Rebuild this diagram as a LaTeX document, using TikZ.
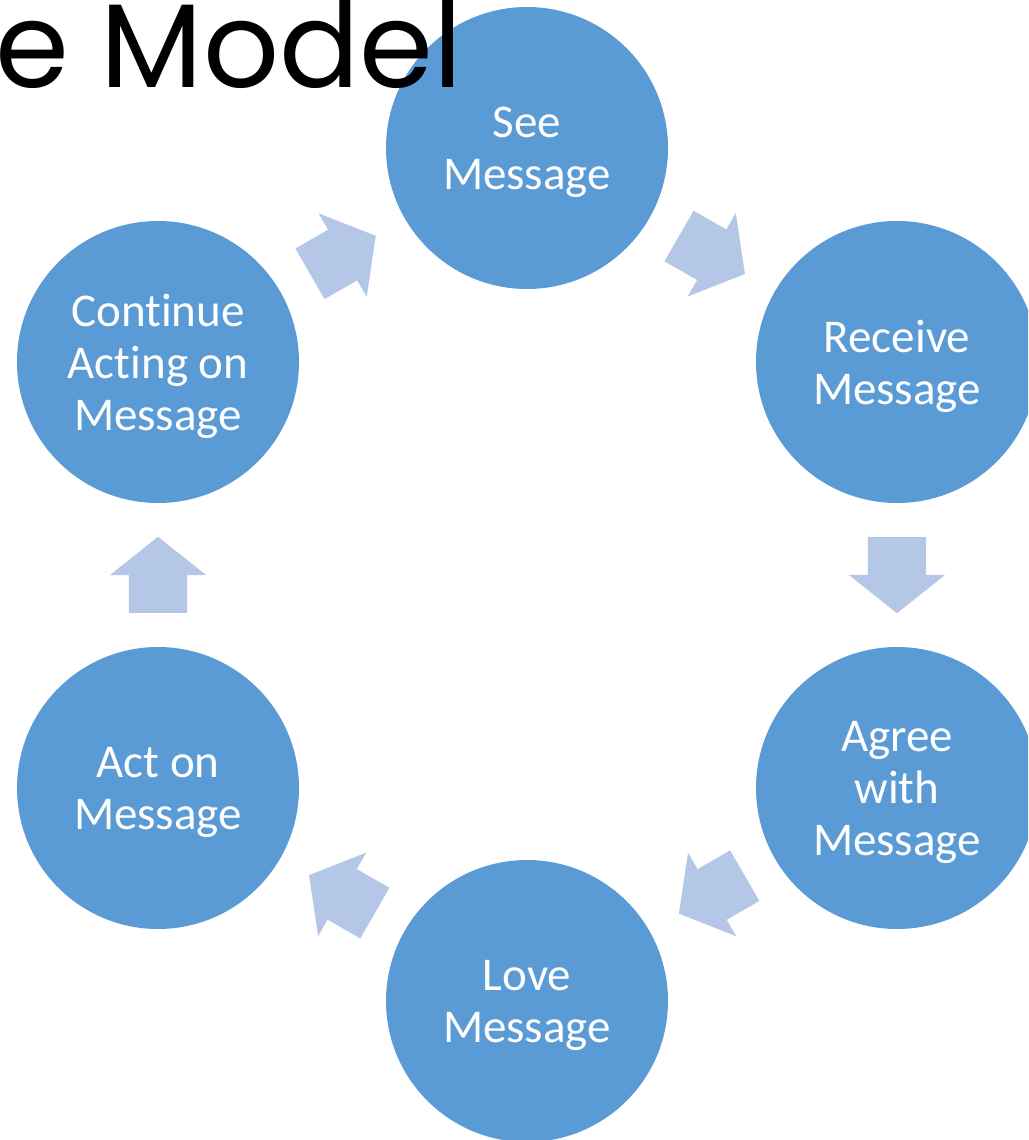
\documentclass[tikz,border=0pt]{standalone}
\usepackage{fontspec}
\setmainfont{Carlito}[Ligatures=NoCommon]
\newfontfamily\titlefont{Poppins}
\usepackage{tikz}
\usetikzlibrary{shapes,arrows,positioning,calc}
\definecolor{stageblue}{HTML}{5B9BD5}
\definecolor{flowblue}{HTML}{B4C7E7}

\begin{document}
\begin{tikzpicture}[x=1pt,y=-1pt,
  stage/.style={circle,fill=stageblue,draw=none,minimum size=282pt,inner sep=0pt,
    text=white,align=center,text depth=0pt,font=\fontsize{47}{52}\selectfont},
  flow/.style={single arrow,fill=flowblue,draw=none,inner xsep=0pt,inner ysep=29pt,
    minimum height=76pt,minimum width=96pt,anchor=tail,
    single arrow head extend=19pt,single arrow tip angle=103}]
\clip (0,0) rectangle (1028,1140);
\node (see)   [stage] at (527,148)  {See\\Message};
\node (recv)  [stage] at (897,362)  {Receive\\Message};
\node (agree) [stage] at (897,788)  {Agree\\with\\Message};
\node (love)  [stage] at (527,1001) {Love\\Message};
\node (act)   [stage] at (158,788)  {Act on\\Message};
\node (cont)  [stage] at (158,362)  {Continue\\Acting on\\Message};
% arrows between the stages, tail 38pt short of the midpoint
\node (f1) [flow,rotate=-30]  at ($(see)!175.5pt!(recv)$)   {};
\node (f2) [flow,rotate=-90]  at ($(recv)!175pt!(agree)$)   {};
\node (f3) [flow,rotate=-150] at ($(agree)!175.5pt!(love)$) {};
\node (f4) [flow,rotate=150]  at ($(love)!175.5pt!(act)$)   {};
\node (f5) [flow,rotate=90]   at ($(act)!175pt!(cont)$)     {};
\node (f6) [flow,rotate=30]   at ($(cont)!175.5pt!(see)$)   {};
% title
\node (T) [anchor=base west,inner sep=0pt,font=\titlefont\fontsize{119}{119}\selectfont]
  at (-5,87) {e Model};
\end{tikzpicture}
\end{document}
